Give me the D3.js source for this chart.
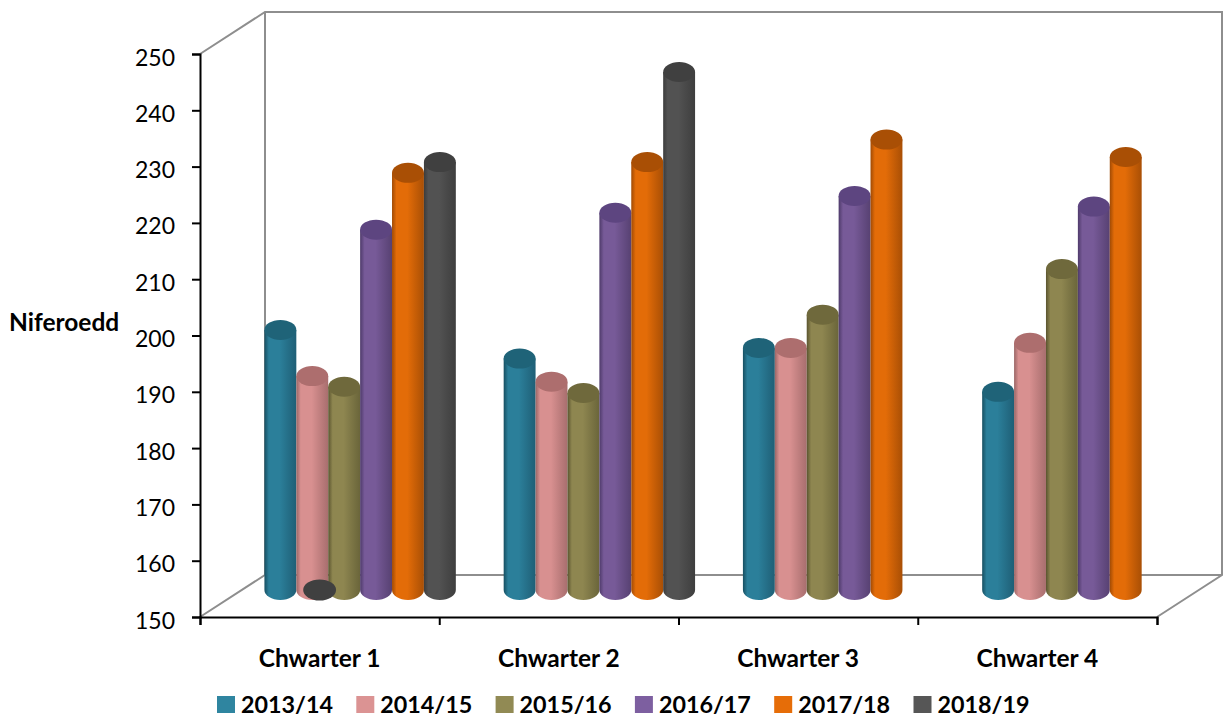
<!DOCTYPE html>
<html>
<head>
<meta charset="utf-8">
<script src="https://cdn.jsdelivr.net/npm/d3@7"></script>
<style>
  html, body { margin: 0; padding: 0; background: #fff; }
  text { font-family: Lato, sans-serif; font-weight: 700; fill: #000; }
</style>
</head>
<body>
<script>
// ==========================================================================
// Data
// ==========================================================================

const quarters = ['Chwarter 1', 'Chwarter 2', 'Chwarter 3', 'Chwarter 4']
const years = ['2013/14', '2014/15', '2015/16', '2016/17', '2017/18', '2018/19']

const series201314 = [196.2, 191.1, 193.0, 185.2]
const series201415 = [188.0, 187.0, 193.0, 193.9]
const series201516 = [186.1, 185.0, 198.9, 207.0]
const series201617 = [214.0, 217.0, 220.0, 218.1]
const series201718 = [224.1, 226.0, 230.0, 226.9]
const series201819 = [226.0, 242.0, null, null]
const allSeries = [series201314, series201415, series201516, series201617, series201718, series201819]

// The flat dark disk that sits on the floor in front of Chwarter 1
const floorDiskQuarter = 'Chwarter 1'
const floorDiskValue = 150

const yTicks = [150, 160, 170, 180, 190, 200, 210, 220, 230, 240, 250]

// ==========================================================================
// Setup
// ==========================================================================

const width = 1230, height = 718
const plot = { left: 200, right: 1157, top: 54, bottom: 617 }
const wallDepth = { x: 65, y: -42 }   // back wall offset
const barDepth = { x: 40.5, y: -27 }  // bars stand half way into the floor
const capRy = 10

const colors = [
  { edge: '#174f61', body: '#2b7f9a', back: '#1f5f76', cap: '#1f6378', key: '#2f85a0' },
  { edge: '#9a6666', body: '#d89090', back: '#a86e6e', cap: '#ad6e6e', key: '#db9393' },
  { edge: '#5a542f', body: '#8e8650', back: '#6a653a', cap: '#6f693c', key: '#918a54' },
  { edge: '#4e3a6a', body: '#775a98', back: '#574172', cap: '#5d4580', key: '#7d5fa0' },
  { edge: '#a04a04', body: '#e36c08', back: '#a94f05', cap: '#a94f05', key: '#e66d08' },
  { edge: '#3c3c3c', body: '#525252', back: '#3e3e3e', cap: '#404040', key: '#565656' }
]

const x = d3.scaleBand().domain(quarters).range([plot.left, plot.right])
const xTicks = d3.scaleLinear().domain([0, quarters.length]).range([plot.left, plot.right])
const y = d3.scaleLinear().domain([150, 250]).range([plot.bottom, plot.top])

// Six slots of 32px centred on each quarter
const slotWidth = 31.9
const xSeries = d3.scaleBand()
  .domain(years)
  .range([-3 * slotWidth, 3 * slotWidth])

const svg = d3.select('body').append('svg')
  .attr('width', width)
  .attr('height', height)
  .style('display', 'block')

// --------------------------------------------------------------------------
// Gradients for the cylinders
// --------------------------------------------------------------------------

const defs = svg.append('defs')
colors.forEach((c, i) => {
  const g = defs.append('linearGradient').attr('id', 'cyl' + i)
    .attr('x1', 0).attr('x2', 1).attr('y1', 0).attr('y2', 0)
  g.append('stop').attr('offset', '0%').attr('stop-color', c.edge)
  g.append('stop').attr('offset', '14%').attr('stop-color', c.body)
  g.append('stop').attr('offset', '48%').attr('stop-color', c.body)
  g.append('stop').attr('offset', '100%').attr('stop-color', c.back)
})

// --------------------------------------------------------------------------
// Walls and floor
// --------------------------------------------------------------------------

const wall = svg.append('g')
  .attr('fill', 'none')
  .attr('stroke', '#8e8e8e')
  .attr('stroke-width', 2)

const line = d3.line()
const backX = v => v + wallDepth.x
const backY = v => v + wallDepth.y

wall.append('path').attr('d', line([
  [plot.left, y(250)],
  [backX(plot.left), backY(y(250))],
  [backX(plot.right), backY(y(250))],
  [backX(plot.right), backY(y(150))],
  [plot.right, y(150)]
]))
wall.append('path').attr('d', line([
  [plot.left, y(150)],
  [backX(plot.left), backY(y(150))],
  [backX(plot.right), backY(y(150))]
]))
wall.append('path').attr('d', line([
  [backX(plot.left), backY(y(250))],
  [backX(plot.left), backY(y(150))]
]))

// --------------------------------------------------------------------------
// Axes
// --------------------------------------------------------------------------

const yAxis = svg.append('g')
  .attr('transform', `translate(${plot.left},0)`)
  .call(d3.axisLeft(y).tickValues(yTicks).tickSize(8).tickPadding(17))
yAxis.selectAll('line, path').attr('stroke', '#000').attr('stroke-width', 2)
yAxis.selectAll('text')
  .attr('font-size', 23)
  .attr('dy', '0.48em')
  .style('font-weight', 400)

const xAxisTicks = svg.append('g')
  .attr('transform', `translate(0,${plot.bottom})`)
  .call(d3.axisBottom(xTicks).ticks(quarters.length).tickSize(8).tickFormat(''))
xAxisTicks.selectAll('line, path').attr('stroke', '#000').attr('stroke-width', 2)

const xAxisLabels = svg.append('g')
  .attr('transform', `translate(0,${plot.bottom})`)
  .call(d3.axisBottom(x).tickSize(0).tickPadding(33))
xAxisLabels.select('.domain').remove()
xAxisLabels.selectAll('text').attr('font-size', 24.5)

svg.append('text')
  .attr('x', 9)
  .attr('y', 331)
  .attr('font-size', 24.5)
  .text('Niferoedd')

// --------------------------------------------------------------------------
// Cylinders
// --------------------------------------------------------------------------

const barRows = allSeries.flatMap((values, s) =>
  values.map((v, q) => ({ s, q, v })).filter(d => d.v !== null))

const cx = d => x(quarters[d.q]) + x.bandwidth() / 2 + barDepth.x
  + xSeries(years[d.s]) + xSeries.bandwidth() / 2
const baseY = y(150) + barDepth.y
const topY = d => y(d.v) + barDepth.y
const rx = xSeries.bandwidth() / 2

const bars = svg.append('g').selectAll('g')
  .data(barRows)
  .join('g')

// body: straight sides with a half ellipse at the bottom
bars.append('path')
  .attr('fill', d => `url(#cyl${d.s})`)
  .attr('d', d => {
    const l = cx(d) - rx, r = cx(d) + rx
    return `M${l},${topY(d)} L${l},${baseY} A${rx},${capRy} 0 0 0 ${r},${baseY} L${r},${topY(d)} Z`
  })

bars.append('ellipse')
  .attr('cx', cx)
  .attr('cy', topY)
  .attr('rx', rx)
  .attr('ry', capRy)
  .attr('fill', d => colors[d.s].cap)

svg.append('ellipse')
  .attr('cx', x(floorDiskQuarter) + x.bandwidth() / 2)
  .attr('cy', y(floorDiskValue) + barDepth.y)
  .attr('rx', rx * 1.03)
  .attr('ry', capRy + 0.5)
  .attr('fill', colors[5].cap)

// --------------------------------------------------------------------------
// Legend
// --------------------------------------------------------------------------

const legendX = d3.scalePoint().domain(years).range([217, 217 + 5 * 139.3])

const legend = svg.append('g').selectAll('g')
  .data(years)
  .join('g')
  .attr('transform', d => `translate(${legendX(d)},696)`)

legend.append('rect')
  .attr('width', 18)
  .attr('height', 17)
  .attr('fill', (d, i) => colors[i].key)

legend.append('text')
  .attr('x', 24)
  .attr('y', 17)
  .attr('font-size', 23.3)
  .text(d => d)
</script>
</body>
</html>
